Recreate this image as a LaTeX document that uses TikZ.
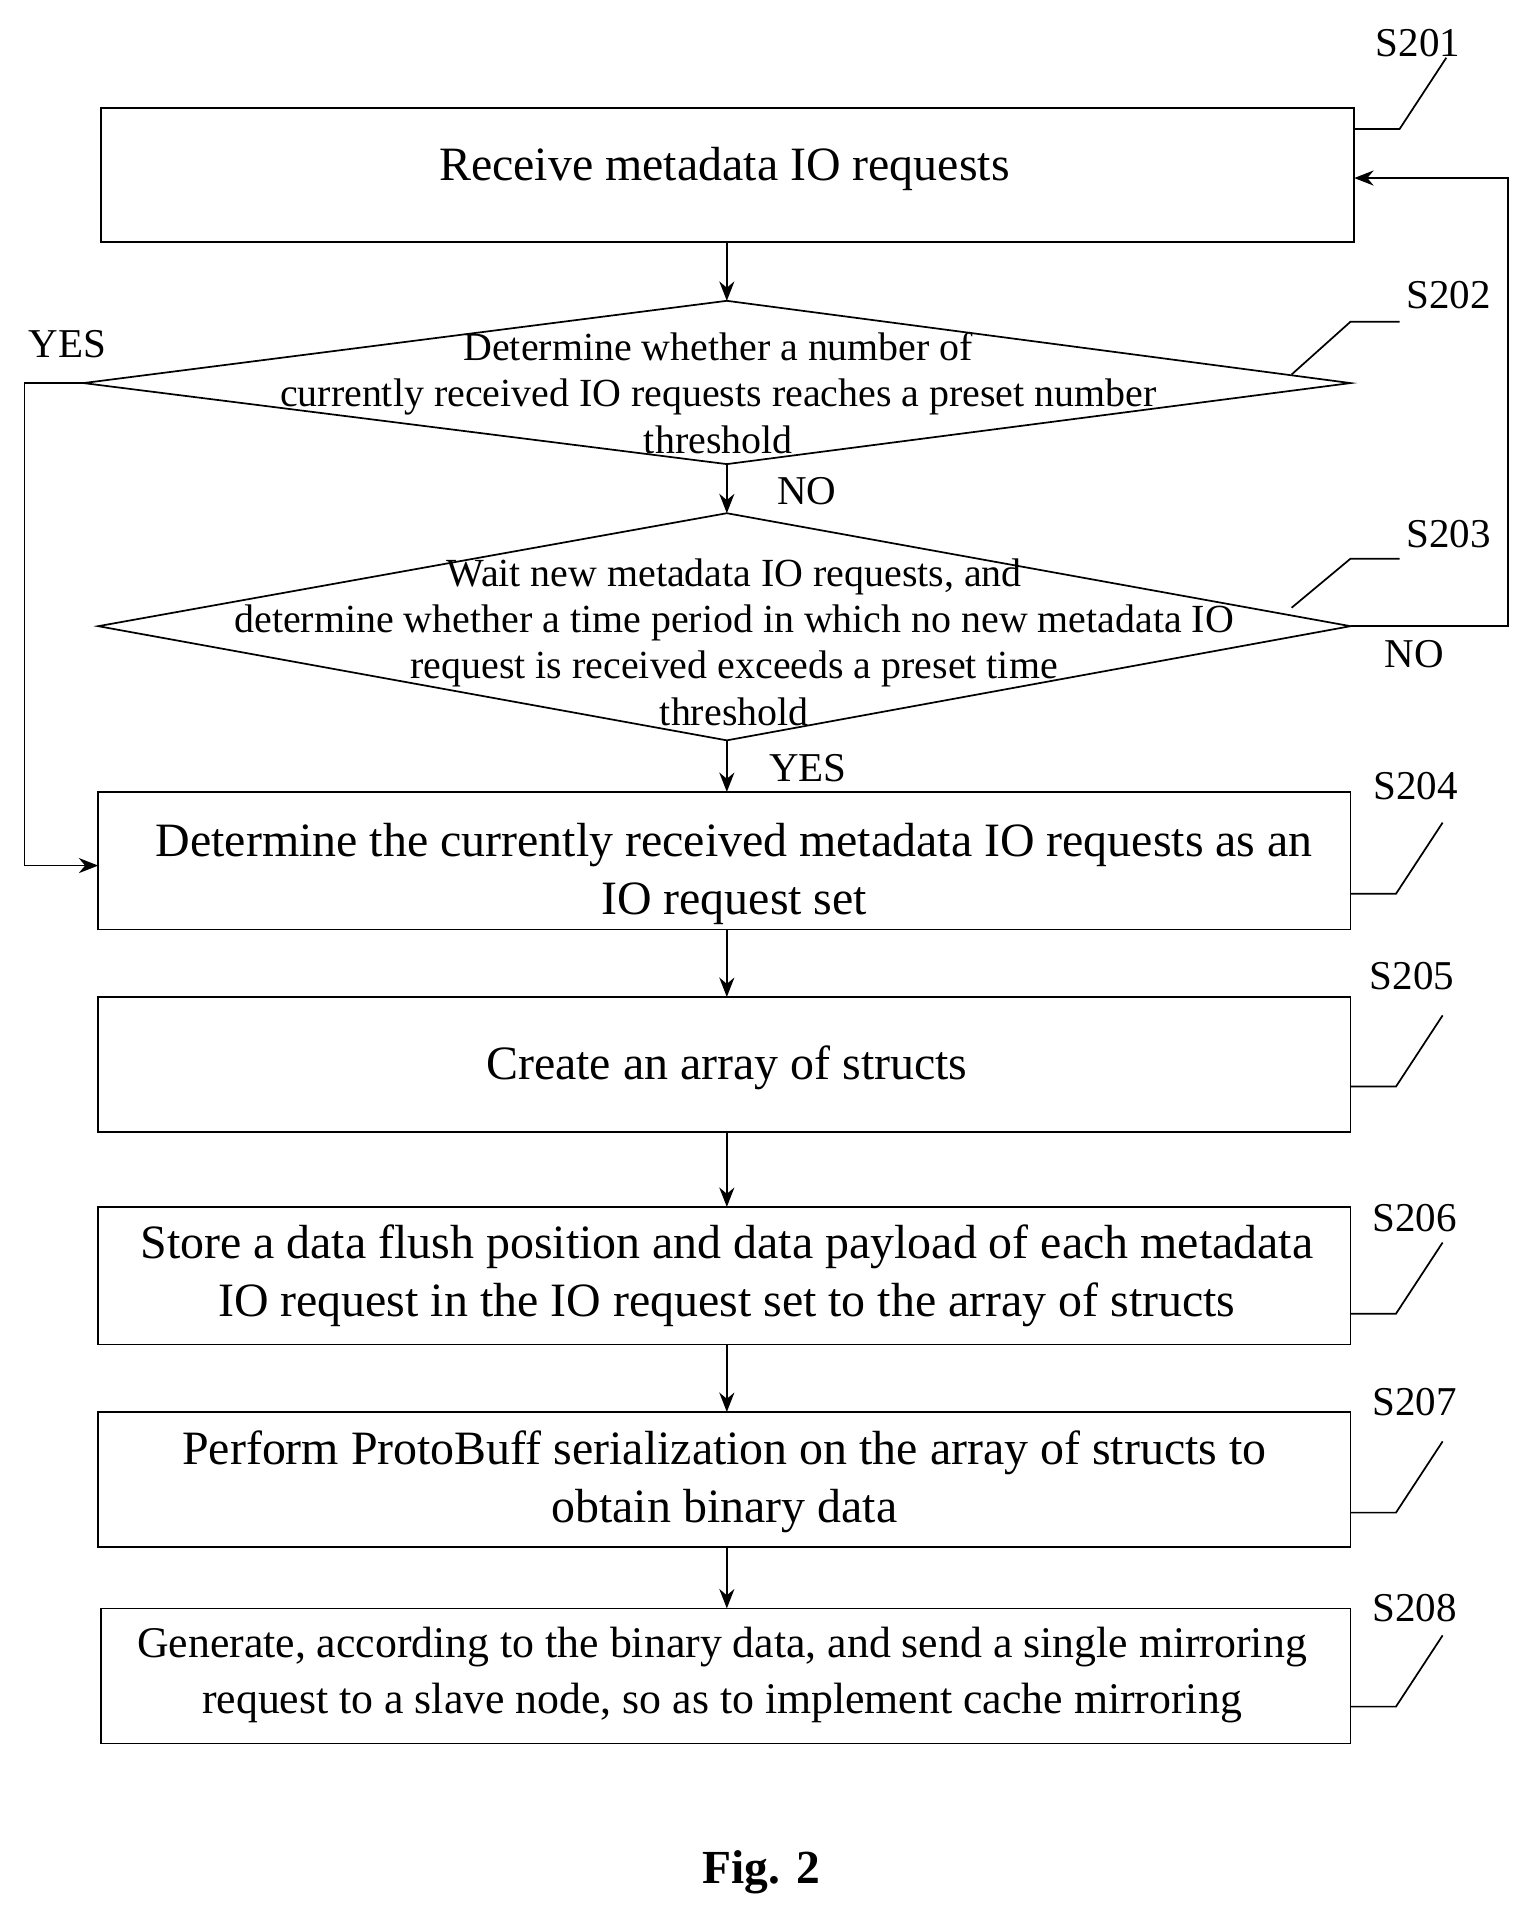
\documentclass[tikz,border=0pt]{standalone}
\usepackage{fontspec}
\setmainfont{Liberation Serif}
\usetikzlibrary{arrows.meta}
\begin{document}
\begin{tikzpicture}[x=0.02cm,y=-0.02cm,
  box/.style={draw,line width=0.8pt,inner sep=0},
  lbl/.style={font=\fontsize{19}{24}\selectfont},
  txt/.style={align=center,font=\fontsize{22.2}{27}\selectfont},
  dtxt/.style={align=center,font=\fontsize{18.5}{21.5}\selectfont},
  arr/.style={draw,line width=0.8pt,-{Stealth[length=9pt,width=7pt]}},
  lead/.style={draw,line width=0.8pt}]
\useasboundingbox (0,0) rectangle (1243,1563);
% boxes
\draw[box] (82,88) rectangle (1103,197);
\node[txt] (t1) at (590,138) {Receive metadata IO requests};
\draw[box] (80,645) rectangle (1100,757);
\node[txt] (t4) at (598,712) {Determine the currently received metadata IO requests as an\\IO request set};
\draw[box] (80,812) rectangle (1100,922);
\node[txt] (t5) at (592,870) {Create an array of structs};
\draw[box] (80,983) rectangle (1100,1095);
\node[txt] (t6) at (592,1039) {Store a data flush position and data payload of each metadata\\IO request in the IO request set to the array of structs};
\draw[box] (80,1150) rectangle (1100,1260);
\node[txt] (t7) at (590,1207) {Perform ProtoBuff serialization\ on the array of structs to\\obtain binary data};
\draw[box] (82,1310) rectangle (1100,1420);
\node[txt,font=\fontsize{20.3}{26}\selectfont] (t8) at (588,1364) {Generate, according to the binary data, and send a single mirroring\\request to a slave node, so as to implement cache mirroring};
% diamonds
\draw[box] (592,245) -- (1100,312) -- (592,378) -- (68,312) -- cycle;
\node[dtxt] (d1) at (585,320) {Determine whether a number of\\currently received IO requests reaches a preset number\\threshold};
\draw[box] (592,418) -- (1100,510) -- (592,603) -- (80,510) -- cycle;
\node[dtxt] (d2) at (598,523) {Wait new metadata IO requests, and\\determine whether a time period in which no new metadata IO\\request is received exceeds a preset time\\threshold};
% arrows
\coordinate (a1) at (592,197); \coordinate (a2) at (592,245);
\draw[arr] (a1) -- (a2);
\coordinate (a3) at (592,378); \coordinate (a4) at (592,418);
\draw[arr] (a3) -- (a4);
\coordinate (a5) at (592,603); \coordinate (a6) at (592,645);
\draw[arr] (a5) -- (a6);
\foreach \ya/\yb in {757/812,922/983,1095/1150,1260/1310}{
  \draw[arr] (592,\ya) -- (592,\yb);}
\coordinate (r1) at (1100,510); \coordinate (r2) at (1103,145);
\draw[arr] (r1) -- (1228,510) -- (1228,145) -- (r2);
\coordinate (l1) at (68,312); \coordinate (l2) at (80,705);
\draw[arr] (l1) -- (20,312) -- (20,705) -- (l2);
% yes/no
\node[lbl] (y1) at (55,280) {YES};
\node[lbl] (n1) at (657,400) {NO};
\node[lbl] (n2) at (1152,533) {NO};
\node[lbl] (y2) at (658,626) {YES};
% step labels
\foreach \n/\x/\y/\bx/\by in {S201/1155/35/1103/105, S204/1153/640/1100/728, S205/1150/795/1100/885, S206/1152/992/1100/1070, S207/1152/1142/1100/1232, S208/1152/1310/1100/1390}{
  \node[lbl] at (\x,\y) {\n};
  \draw[lead] (\bx,\by) -- (\bx+37,\by) -- (\bx+75,\by-58);}
\node[lbl] (s2) at (1180,240) {S202};
\draw[lead] (1052,305) -- (1100,262) -- (1140,262);
\node[lbl] (s3) at (1180,435) {S203};
\draw[lead] (1052,495) -- (1100,455) -- (1140,455);
\node[font=\fontsize{22}{26}\selectfont\bfseries] (fig) at (620,1525) {Fig. 2};
\end{tikzpicture}
\end{document}
